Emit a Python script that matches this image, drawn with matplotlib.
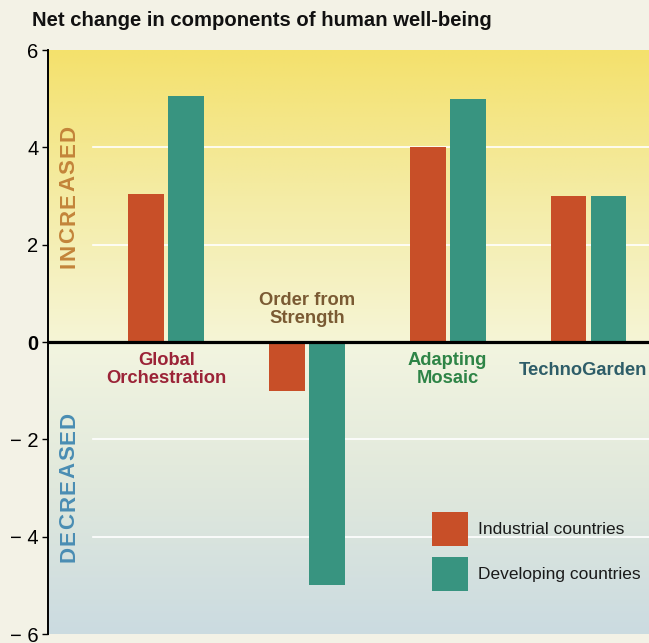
import numpy as np
import matplotlib
matplotlib.use("Agg")
import matplotlib.pyplot as plt
from matplotlib.patches import Rectangle
from matplotlib.font_manager import FontProperties

# ---- data ----
scenarios = ["Global\nOrchestration", "Order from\nStrength", "Adapting\nMosaic", "TechnoGarden"]
industrial = [3.05, -1.0, 4.0, 3.0]
developing = [5.05, -5.0, 5.0, 3.0]
series_names = ["Industrial countries", "Developing countries"]
y_ticks = [6, 4, 2, 0, -2, -4, -6]
y_tick_labels = ["6", "4", "2", "0", "\u2212 2", "\u2212 4", "\u2212 6"]
title = "Net change in components of human well-being"

# ---- styling ----
W, H, DPI = 649, 643, 100
BG = "#f3f2e6"
C_IND = "#c84f28"
C_DEV = "#389480"
label_colors = ["#9b2337", "#7a5a33", "#2e8446", "#2e5d68"]
# label anchor (x shift, y in data units) and vertical alignment for each scenario
label_dx = [0.0, 0.0, 0.0, -0.04]
label_y = [-0.2, 0.3, -0.2, -0.42]
label_va = ["top", "bottom", "top", "top"]
SANS = ["Liberation Sans", "DejaVu Sans"]

fig = plt.figure(figsize=(W / DPI, H / DPI), dpi=DPI, facecolor=BG)
ax = fig.add_axes([48 / W, (H - 634) / H, (W - 48) / W, (634 - 50) / H])
ax.set_facecolor(BG)

x = np.arange(len(scenarios))
bar_w = 0.255
off = 0.142
ax.set_xlim(-0.84, 3.43)
ax.set_ylim(-6, 6)

# background gradient: warm yellow above zero, pale green to blue-grey below
stops_y = [6, 3, 0.01, -0.01, -3, -6]
stops_c = np.array([
    [244, 225, 108],
    [244, 236, 165],
    [246, 245, 214],
    [243, 245, 224],
    [224, 232, 220],
    [203, 219, 225],
]) / 255.0
ys = np.linspace(6, -6, 600)
grad = np.stack([np.interp(ys, stops_y[::-1], stops_c[::-1, k]) for k in range(3)], axis=-1)
grad = np.repeat(grad[:, None, :], 2, axis=1)
ax.imshow(grad, extent=[-0.84, 3.43, -6, 6], aspect="auto", zorder=0, interpolation="bilinear")

# white reference lines
for yv in [4, 2, -2, -4]:
    ax.axhline(yv, xmin=(93 - 48) / 601, xmax=1, color="white", lw=1.2, zorder=1)

ax.bar(x - off, industrial, width=bar_w, color=C_IND, zorder=2)
ax.bar(x + off, developing, width=bar_w, color=C_DEV, zorder=2)

ax.axhline(0, color="black", lw=2.3, zorder=3)

# scenario labels
for i, name in enumerate(scenarios):
    ax.text(x[i] + label_dx[i], label_y[i], name, ha="center", va=label_va[i],
            color=label_colors[i], fontsize=13.2, fontweight="bold", family=SANS,
            linespacing=1.1, zorder=4)

# axes styling
for s in ["top", "right", "bottom"]:
    ax.spines[s].set_visible(False)
ax.spines["left"].set_linewidth(1.4)
ax.spines["left"].set_zorder(5)
ax.set_xticks([])
ax.set_yticks(y_ticks)
ax.set_yticklabels(y_tick_labels, family=SANS, fontsize=14.5)
for t in ax.get_yticklabels():
    if t.get_text() == "0":
        t.set_fontweight("bold")
ax.tick_params(axis="y", length=4, width=1, pad=3, color="black")

# legend: swatches and labels in axes fraction
def px_to_axes(px, py):
    return (px - 48) / 601, (634 - py) / 584

for (top_px, color, name) in [(512, C_IND, series_names[0]), (557, C_DEV, series_names[1])]:
    x0, y0 = px_to_axes(432, top_px + 34)
    x1, y1 = px_to_axes(468, top_px)
    ax.add_patch(Rectangle((x0, y0), x1 - x0, y1 - y0, transform=ax.transAxes,
                           facecolor=color, edgecolor="none", zorder=4))
    tx, ty = px_to_axes(478, top_px + 17)
    ax.text(tx, ty, name, transform=ax.transAxes, ha="left", va="center",
            fontsize=12.5, family=SANS, color="#1a1a1a", zorder=4)

fig.text(32 / W, 1 - 21 / H, title, ha="left", va="center", fontsize=14.6,
         fontweight="bold", family=SANS, color="#111111")


# letter-spaced vertical words
def spaced_vertical(word, xc, y_bottom, y_top, color, size):
    fp = FontProperties(family=SANS, weight="bold", size=size)
    texts = [fig.text(0, 0, ch, rotation=90, ha="center", va="center",
                      color=color, fontproperties=fp) for ch in word]
    renderer = fig.canvas.get_renderer()
    widths = [t.get_window_extent(renderer).height for t in texts]
    gap = ((y_bottom - y_top) - sum(widths)) / (len(word) - 1)
    pos = y_bottom
    for t, w in zip(texts, widths):
        yc = pos - w / 2
        t.set_position((xc / W, 1 - yc / H))
        pos -= w + gap


spaced_vertical("INCREASED", 68.5, 268, 125, "#c3843a", 16)
spaced_vertical("DECREASED", 68.5, 562, 412, "#4a8db3", 16)

fig.savefig("out.png", dpi=DPI, facecolor=BG)
